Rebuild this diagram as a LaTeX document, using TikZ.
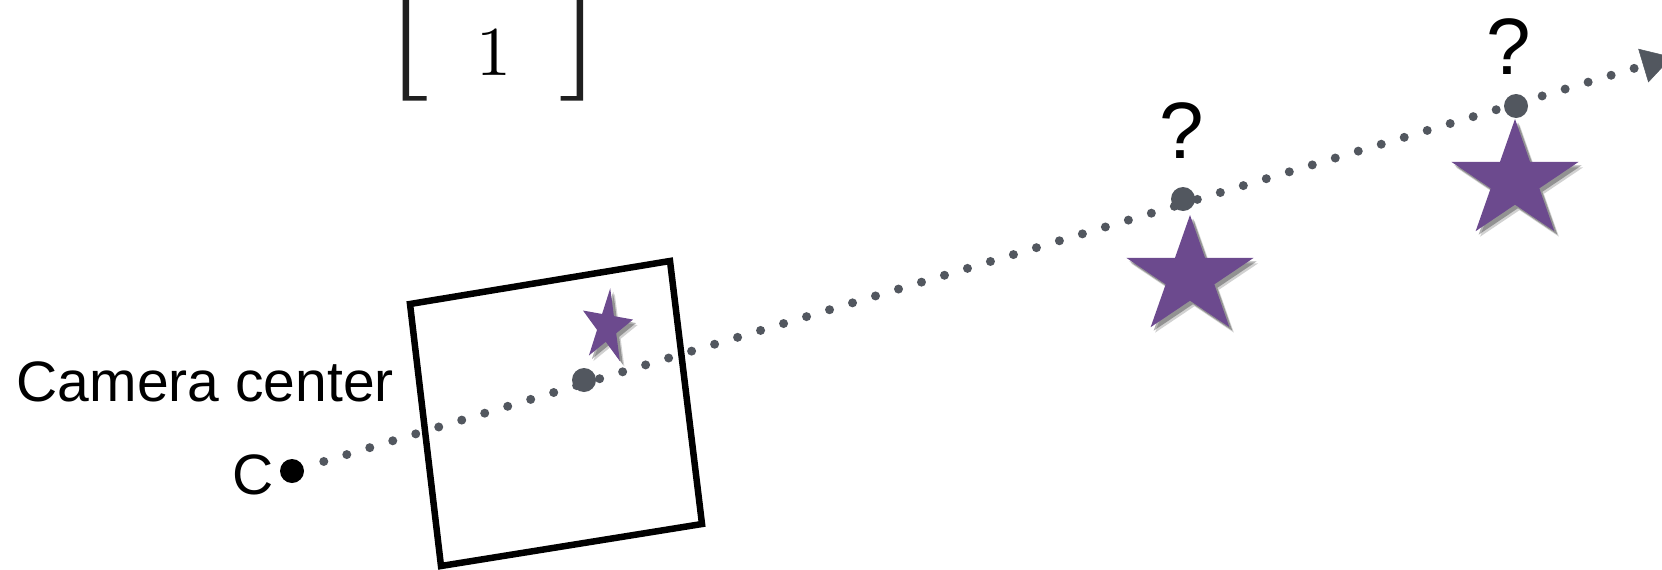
\documentclass[tikz,border=0pt]{standalone}
\usepackage{fontspec}
\newfontfamily\sansfont{Liberation Sans}
\newfontfamily\lmten{lmroman10-regular.otf}
\usetikzlibrary{shapes.geometric,arrows.meta,shadows}
\definecolor{dotgray}{RGB}{82,87,95}
\definecolor{starpurple}{RGB}{108,74,142}
\begin{document}
\begin{tikzpicture}[x=1pt,y=-1pt,
  lbl/.style={font=\sansfont\fontsize{57}{60}\selectfont, inner sep=0pt},
  qlbl/.style={font=\sansfont\fontsize{80}{84}\selectfont, inner sep=0pt},
  bigdot/.style={circle, fill=dotgray, minimum size=24pt, inner sep=0pt},
  pstar/.style={star, star points=5, star point ratio=2.618, fill=starpurple, inner sep=0pt,
    drop shadow={shadow xshift=4.5pt, shadow yshift=-5.5pt, opacity=0.18, fill=black},
    drop shadow={shadow xshift=3pt, shadow yshift=-3.5pt, opacity=0.3, fill=black}},
  dotline/.style={draw=dotgray, line width=9pt, line cap=round, dash pattern=on 0pt off 24pt},
  frame/.style={draw=black, line width=6.5pt, line join=miter},
  bracket/.style={fill=black!88}]
\useasboundingbox (0,0) rectangle (1662,570);
% matrix bracket (partly cut off)
\fill[bracket] (402.5,-10) rectangle (409,100.5) (402.5,96) rectangle (426.5,100.5);
\fill[bracket] (576.5,-10) rectangle (583,100.5) (560.5,96) rectangle (583,100.5);
\node[font=\lmten\fontsize{70}{70}\selectfont, inner sep=0pt, anchor=base] (one) at (494,75) {1};
% image plane
\draw[frame] (410,304) -- (670,261) -- (702,524) -- (441,566) -- cycle;
% stars
\node[pstar, minimum size=78pt, xscale=0.68, rotate=-7, transform shape] (s0) at (607,327) {};
\node[pstar, minimum size=124pt, xscale=1.08, transform shape] (s1) at (1190,277) {};
\node[pstar, minimum size=124pt, xscale=1.08, transform shape] (s2) at (1515,181) {};
% points
\node[bigdot, fill=black] (C) at (292,471) {};
\node[bigdot] (p) at (584,380) {};
\node[bigdot] (X1) at (1183,199) {};
\node[bigdot] (X2) at (1516,106) {};
\coordinate (tip) at (1672,57);
\draw[dotline, shorten <=21pt, -{Triangle[length=30pt,width=35pt,line width=0.5pt]}] (C) -- (tip);
% labels
\node[lbl, anchor=base east] (cc) at (394,401) {Camera center};
\node[lbl, anchor=base] (clbl) at (253,494) {C};
\node[qlbl, anchor=base] (q1) at (1182,158) {?};
\node[qlbl, anchor=base] (q2) at (1509,74) {?};
\end{tikzpicture}
\end{document}
